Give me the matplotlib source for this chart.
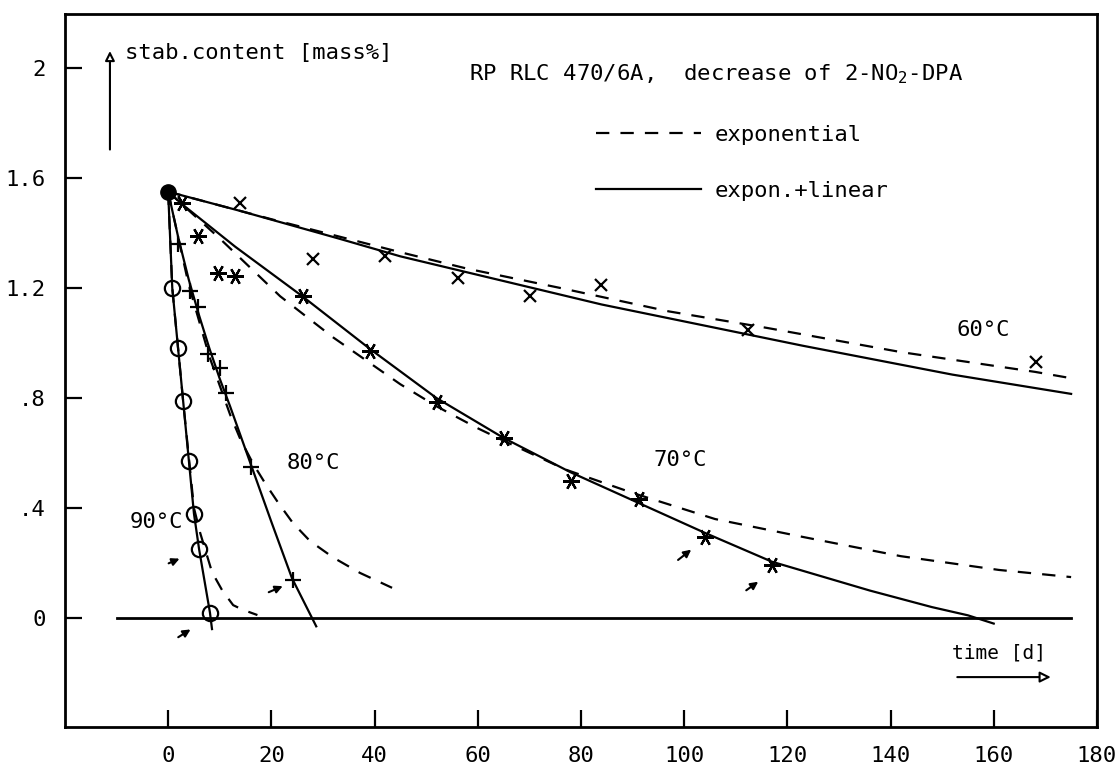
import matplotlib
matplotlib.use('Agg')
import matplotlib.pyplot as plt

plt.rcParams['font.family'] = 'DejaVu Sans Mono'

# start value (t = 0)
start_t = [0]
start_c = [1.55]

# measured stabilizer content, days / mass%
t90 = [0.8, 1.9, 2.9, 4.05, 5.0, 6.0, 8.1]
c90 = [1.20, 0.98, 0.79, 0.57, 0.38, 0.25, 0.02]

t80 = [1.9, 4.3, 5.8, 7.8, 10.1, 11.3, 16.1, 24.2]
c80 = [1.36, 1.19, 1.13, 0.96, 0.91, 0.82, 0.55, 0.14]

t70 = [2.7, 5.8, 9.7, 13, 26.2, 39.2, 52.2, 65, 78, 91.2, 104.1, 117.1]
c70 = [1.51, 1.39, 1.255, 1.245, 1.17, 0.97, 0.785, 0.655, 0.50, 0.433, 0.295, 0.193]

t60 = [14, 28.1, 42.1, 56.2, 70.2, 83.8, 112.3, 168.2]
c60 = [1.51, 1.305, 1.315, 1.235, 1.17, 1.21, 1.047, 0.93]

# fitted curves: expon.+linear (solid)
lin90_t = [0, 0.8, 2.9, 5.0, 6.0, 8.1, 8.5]
lin90_c = [1.55, 1.20, 0.79, 0.38, 0.25, 0.02, -0.04]
lin80_t = [0, 2, 4, 6, 8, 10, 12, 16, 20, 24, 28.7]
lin80_c = [1.55, 1.38, 1.23, 1.10, 0.98, 0.87, 0.77, 0.56, 0.35, 0.145, -0.03]
lin70_t = [0, 3, 13, 26, 39, 52, 65, 78, 91, 104, 117, 136, 148, 155, 160]
lin70_c = [1.55, 1.50, 1.35, 1.17, 0.98, 0.80, 0.655, 0.53, 0.42, 0.31, 0.205, 0.10, 0.04, 0.01, -0.02]
lin60_t = [0, 14, 33, 45, 84, 123, 152, 175]
lin60_c = [1.55, 1.48, 1.38, 1.315, 1.14, 0.99, 0.885, 0.815]

# fitted curves: exponential (dashed)
exp90_t = [0, 0.8, 2.9, 5.0, 6.2, 8.5, 10.5, 12.6, 14.5, 17.3]
exp90_c = [1.55, 1.20, 0.79, 0.40, 0.31, 0.167, 0.10, 0.047, 0.03, 0.011]
exp80_t = [0, 4, 8, 12, 14, 16.5, 18.8, 21.3, 24.2, 27.5, 32, 37.2, 43.4]
exp80_c = [1.55, 1.21, 0.95, 0.74, 0.65, 0.56, 0.49, 0.42, 0.345, 0.28, 0.22, 0.164, 0.11]
exp70_t = [0, 10, 21.7, 32, 45, 52, 60, 65, 77, 90, 106, 123, 142, 161, 175]
exp70_c = [1.55, 1.38, 1.17, 1.02, 0.85, 0.77, 0.69, 0.645, 0.54, 0.455, 0.36, 0.295, 0.225, 0.175, 0.149]
exp60_t = [0, 20, 45, 58, 76, 97, 116, 142, 168, 175]
exp60_c = [1.55, 1.45, 1.33, 1.27, 1.2, 1.115, 1.055, 0.967, 0.895, 0.872]

x_ticks = [0, 20, 40, 60, 80, 100, 120, 140, 160, 180]
y_ticks = [0, 0.4, 0.8, 1.2, 1.6, 2.0]
y_ticklabels = ['0', '.4', '.8', '1.2', '1.6', '2']

# small arrows marking single points (from, to)
marks = [((-0.4, 0.195), (2.7, 0.22)),
         ((1.5, -0.075), (4.8, -0.036)),
         ((19.0, 0.09), (22.7, 0.12)),
         ((98.4, 0.205), (101.8, 0.255)),
         ((111.6, 0.095), (114.8, 0.138))]

temp_labels = ['90°C', '80°C', '70°C', '60°C']
temp_pos = [(-2.3, 0.35), (28.1, 0.565), (99.3, 0.575), (157.9, 1.047)]

fig = plt.figure(figsize=(11.16, 7.73), dpi=100)
ax = fig.add_axes([0.0582, 0.0595, 0.9247, 0.9224])

lw = 1.6
dash = (6, 5)

ax.plot([-10, 175], [0, 0], color='black', lw=2)

for tt, cc in [(exp90_t, exp90_c), (exp80_t, exp80_c), (exp70_t, exp70_c), (exp60_t, exp60_c)]:
    ax.plot(tt, cc, color='black', lw=lw, dashes=dash)
for tt, cc in [(lin90_t, lin90_c), (lin80_t, lin80_c), (lin70_t, lin70_c), (lin60_t, lin60_c)]:
    ax.plot(tt, cc, color='black', lw=lw)

ax.plot(start_t, start_c, 'o', color='black', ms=11)
ax.plot(t90, c90, 'o', mfc='none', mec='black', ms=11, mew=1.6)
ax.plot(t80, c80, '+', color='black', ms=12, mew=1.6)
ax.plot(t70, c70, ls='none', marker=(6, 2, 90), color='black', ms=12, mew=1.6)
ax.plot(t60, c60, 'x', color='black', ms=9, mew=1.6)

for p0, p1 in marks:
    ax.annotate('', xy=p1, xytext=p0,
                arrowprops=dict(arrowstyle='-|>', color='black', lw=1.5, mutation_scale=11))

for lab, (x, y) in zip(temp_labels, temp_pos):
    ax.text(x, y, lab, fontsize=16, ha='center', va='center')

ax.text(58.4, 1.978, r'RP RLC 470/6A,  decrease of 2-NO$\mathregular{_2}$-DPA',
        fontsize=16, ha='left', va='center')

# legend
h1, = ax.plot([], [], color='black', lw=lw, dashes=dash)
h2, = ax.plot([], [], color='black', lw=lw)
ax.legend([h1, h2], ['exponential', 'expon.+linear'], loc='upper left',
          bbox_to_anchor=(0.515, 0.845), frameon=False, fontsize=16,
          handlelength=4.7, handletextpad=0.6, labelspacing=1.65,
          borderpad=0, borderaxespad=0)

# axis labels with arrows
ax.annotate('', xy=(0.0436, 0.952), xytext=(0.0436, 0.806), xycoords='axes fraction',
            arrowprops=dict(arrowstyle='-|>', fc='white', ec='black', lw=1.5, mutation_scale=14))
ax.text(0.058, 0.945, 'stab.content [mass%]', transform=ax.transAxes,
        fontsize=16, ha='left', va='center')
ax.annotate('', xy=(0.958, 0.070), xytext=(0.862, 0.070), xycoords='axes fraction',
            arrowprops=dict(arrowstyle='-|>', fc='white', ec='black', lw=1.5, mutation_scale=16))
ax.text(0.905, 0.104, 'time [d]', transform=ax.transAxes,
        fontsize=14, ha='center', va='center')

ax.set_xlim(-20, 180)
ax.set_ylim(-0.396, 2.196)
ax.set_xticks(x_ticks)
ax.set_yticks(y_ticks)
ax.set_yticklabels(y_ticklabels)
ax.tick_params(direction='in', length=12, width=1.6, labelsize=16)
ax.tick_params(axis='x', pad=14)
ax.tick_params(axis='y', pad=14)
for s in ax.spines.values():
    s.set_linewidth(2)

fig.savefig('out.png', dpi=100)
